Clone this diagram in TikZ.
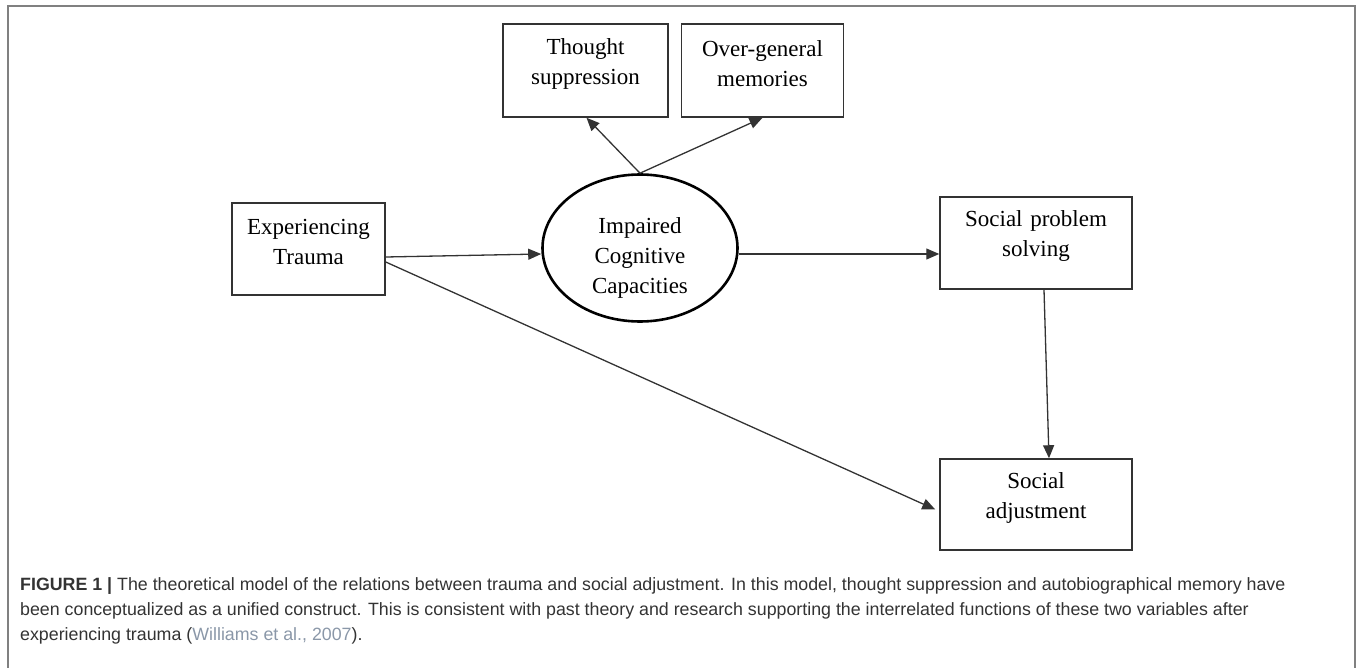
\documentclass[tikz,border=0pt]{standalone}
\usepackage{fontspec}
\setmainfont{Liberation Serif}
\newfontfamily\capfont{Liberation Sans}
\usetikzlibrary{arrows.meta,positioning,calc,shapes.geometric}
\definecolor{framegray}{HTML}{808080}
\definecolor{inkgray}{HTML}{333333}
\definecolor{citeblue}{HTML}{8A97A8}
\newcommand{\boxgap}{\endgraf\vspace*{14pt}}
\newcommand{\ovalgap}{\rule{0pt}{35pt}}
\tikzstyle{box} = [draw=inkgray,line width=1.5pt,rectangle,align=center,text width=#1,
  execute at end node=\boxgap,font=\fontsize{23}{30}\selectfont]
\tikzstyle{latent} = [draw=black,line width=2.6pt,ellipse,align=center,text width=118pt,
  execute at begin node=\ovalgap,
  minimum width=195pt,minimum height=147pt,inner sep=0pt,font=\fontsize{23}{30}\selectfont]
\tikzstyle{path} = [draw=inkgray,line width=1.3pt,-{Triangle[length=13pt,width=11pt]}]

\begin{document}
\begin{tikzpicture}[x=1pt,y=-1pt]
        \useasboundingbox (0,0) rectangle (1358,668);
        \draw[framegray,line width=2pt] (8,668) -- (8,6) -- (1355,6) -- (1355,668);

        \node[box=155pt,minimum width=165pt,minimum height=93pt] (thought) at (585.5,70.5) {Thought\\suppression};
        \node[box=155pt,minimum width=161pt,minimum height=93pt] (over) at (762.5,70.5) {Over-general\\memories};
        \node[box=145pt,minimum width=153pt,minimum height=92pt] (trauma) at (308.5,249) {Experiencing\\Trauma};
        \node[latent] (impaired) at (640,248) {Impaired\\Cognitive\\Capacities};
        \node[box=180pt,minimum width=192pt,minimum height=92pt] (sps) at (1036,243) {Social problem\\solving};
        \node[box=180pt,minimum width=192pt,minimum height=91pt] (adj) at (1036,504.5) {Social\\adjustment};

        \draw[path] (impaired.north) to ([xshift=1pt]thought.south);
        \draw[path] (impaired.north) to (over.south);
        \draw[path] ([yshift=-8pt]trauma.east) to ([yshift=-6pt]impaired.west);
        \draw[path] ([yshift=-6pt]impaired.east) to ([yshift=-11pt]sps.west);
        \draw[path] ([xshift=8pt]sps.south) to ([xshift=13pt]adj.north);
        \draw[path] ([yshift=-13pt]trauma.east) to ([yshift=-5pt,xshift=-4pt]adj.west);

        \node[anchor=base west,inner sep=0pt,align=left,text=inkgray,
          font=\capfont\fontsize{17.8}{25}\selectfont] (caption) at (20,640)
          {\textbf{FIGURE 1 |} The theoretical model of the relations between trauma and social adjustment. In this model, thought suppression and autobiographical memory have\\
           been conceptualized as a unified construct. This is consistent with past theory and research supporting the interrelated functions of these two variables after\\
           experiencing trauma ({\color{citeblue}Williams et al., 2007}).};
\end{tikzpicture}
\end{document}
